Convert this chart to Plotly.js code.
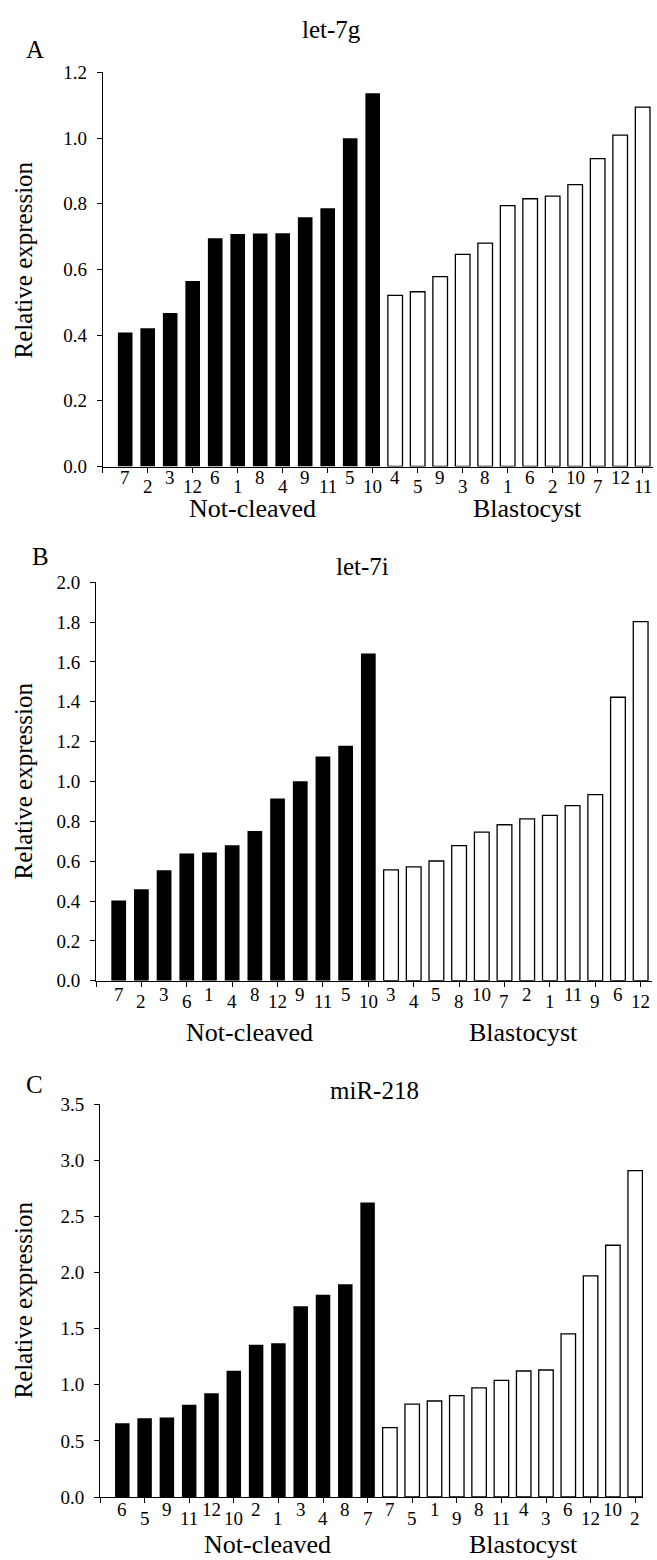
<!DOCTYPE html>
<html>
<head>
<meta charset="utf-8">
<script src="https://cdn.plot.ly/plotly-3.0.1.min.js"></script>
<style>html,body{margin:0;padding:0;background:#fff;}#chart{width:657px;height:1560px;}</style>
</head>
<body>
<div id="chart"></div>
<script>
// ---------- data ----------
var groupNames = ['Not-cleaved', 'Blastocyst'];

var titleA = 'let-7g';
var ncLabelsA = ['7','2','3','12','6','1','8','4','9','11','5','10'];
var ncValuesA = [0.408,0.421,0.467,0.565,0.695,0.708,0.709,0.710,0.759,0.786,0.999,1.136];
var blLabelsA = ['4','5','9','3','8','1','6','2','10','7','12','11'];
var blValuesA = [0.521,0.532,0.578,0.646,0.680,0.794,0.815,0.823,0.858,0.937,1.009,1.094];

var titleB = 'let-7i';
var ncLabelsB = ['7','2','3','6','1','4','8','12','9','11','5','10'];
var ncValuesB = [0.403,0.459,0.554,0.639,0.643,0.680,0.751,0.915,1.001,1.126,1.180,1.642];
var blLabelsB = ['3','4','5','8','10','7','2','1','11','9','6','12'];
var blValuesB = [0.556,0.571,0.601,0.678,0.746,0.783,0.812,0.830,0.879,0.934,1.423,1.803];

var titleC = 'miR-218';
var ncLabelsC = ['6','5','9','11','12','10','2','1','3','4','8','7'];
var ncValuesC = [0.656,0.701,0.707,0.822,0.923,1.125,1.357,1.369,1.698,1.802,1.894,2.622];
var blLabelsC = ['7','5','1','9','8','11','4','3','6','12','10','2'];
var blValuesC = [0.618,0.828,0.855,0.903,0.971,1.039,1.122,1.131,1.452,1.969,2.242,2.907];

var yTitle = 'Relative expression';
var panelLetters = ['A','B','C'];

// ---------- layout helpers ----------
var W = 657, H = 1560;
var FONT = 'Liberation Serif, Times New Roman, serif';
function px(x){ return x / W; }
function py(y){ return 1 - y / H; }

var panels = [
  {title: titleA, nc: ncValuesA, bl: blValuesA, ncL: ncLabelsA, blL: blLabelsA,
   xl: 102.7, xr: 652.8, xmax: 24.45, yt: 72.3, yb: 466.5, ymax: 1.2, dtick: 0.2,
   hi: 11, lo: 20, grp: 42, grpX: [6.68, 18.86], titleXY: [331, 29], letterXY: [35, 49]},
  {title: titleB, nc: ncValuesB, bl: blValuesB, ncL: ncLabelsB, blL: blLabelsB,
   xl: 96, xr: 652, xmax: 24.5, yt: 582.3, yb: 980.7, ymax: 2.0, dtick: 0.2,
   hi: 14, lo: 21, grp: 52, grpX: [6.78, 18.85], titleXY: [362, 566], letterXY: [40, 556]},
  {title: titleC, nc: ncValuesC, bl: blValuesC, ncL: ncLabelsC, blL: blLabelsC,
   xl: 100, xr: 643, xmax: 24.35, yt: 1104, yb: 1497, ymax: 3.5, dtick: 0.5,
   hi: 12, lo: 21, grp: 47, grpX: [7.49, 19.0], titleXY: [374, 1090], letterXY: [34, 1084]}
];

var traces = [];
var layout = {
  width: W, height: H,
  margin: {l: 0, r: 0, t: 0, b: 0},
  paper_bgcolor: '#fff', plot_bgcolor: '#fff',
  showlegend: false,
  font: {family: FONT, color: '#000', size: 19},
  annotations: [],
  bargap: 0.35
};

panels.forEach(function(p, k){
  var n = k + 1;
  var xa = n === 1 ? 'x' : 'x' + n;
  var ya = n === 1 ? 'y' : 'y' + n;
  var ncX = p.nc.map(function(_, i){ return i + 1; });
  var blX = p.bl.map(function(_, i){ return p.nc.length + i + 1; });
  traces.push({type: 'bar', x: ncX, y: p.nc, xaxis: xa, yaxis: ya, width: 0.65,
    marker: {color: '#000', line: {color: '#000', width: 0}}, hoverinfo: 'skip'});
  traces.push({type: 'bar', x: blX, y: p.bl, xaxis: xa, yaxis: ya, width: 0.65,
    marker: {color: '#fff', line: {color: '#000', width: 1.3}}, hoverinfo: 'skip'});

  var tv = [];
  for (var t = 0; t <= p.nc.length + p.bl.length; t += 2) tv.push(t);

  layout[(n === 1 ? 'xaxis' : 'xaxis' + n)] = {
    domain: [px(p.xl), px(p.xr)], range: [0, p.xmax], anchor: ya,
    showline: true, linecolor: '#000', linewidth: 1,
    ticks: 'outside', ticklen: 5, tickwidth: 1, tickcolor: '#000',
    tickmode: 'array', tickvals: tv, showticklabels: false,
    showgrid: false, zeroline: false, fixedrange: true
  };
  var ticks = [];
  for (var v = 0; v <= p.ymax + 1e-9; v += p.dtick) ticks.push(+v.toFixed(2));
  layout[(n === 1 ? 'yaxis' : 'yaxis' + n)] = {
    domain: [py(p.yb), py(p.yt)], range: [0, p.ymax], anchor: xa,
    showline: true, linecolor: '#000', linewidth: 1,
    ticks: 'outside', ticklen: 5, tickwidth: 1, tickcolor: '#000',
    tickmode: 'array', tickvals: ticks, tickformat: '.1f',
    ticklabelstandoff: 6,
    tickfont: {family: FONT, size: 19, color: '#000'},
    showgrid: false, zeroline: false, fixedrange: true
  };

  var allLabels = p.ncL.concat(p.blL);
  allLabels.forEach(function(lab, i){
    var pos = i + 1;
    var high = (pos % 2 === 1);
    layout.annotations.push({
      text: lab, xref: xa, x: pos, yref: 'paper', y: py(p.yb),
      yanchor: 'middle', xanchor: 'center', showarrow: false,
      yshift: -(high ? p.hi : p.lo),
      font: {family: FONT, size: 19, color: '#000'}
    });
  });
  groupNames.forEach(function(g, gi){
    layout.annotations.push({
      text: g, xref: xa, x: p.grpX[gi], yref: 'paper', y: py(p.yb),
      yanchor: 'middle', xanchor: 'center', showarrow: false, yshift: -p.grp,
      font: {family: FONT, size: 26, color: '#000'}
    });
  });
  layout.annotations.push({
    text: yTitle, xref: 'paper', x: px(23), yref: 'paper', y: py((p.yt + p.yb) / 2 - (k === 0 ? 9 : 0)),
    textangle: -90, xanchor: 'center', yanchor: 'middle', showarrow: false,
    font: {family: FONT, size: 25, color: '#000'}
  });
  layout.annotations.push({
    text: p.title, xref: 'paper', x: px(p.titleXY[0]), yref: 'paper', y: py(p.titleXY[1]),
    xanchor: 'center', yanchor: 'middle', showarrow: false,
    font: {family: FONT, size: 25, color: '#000'}
  });
  layout.annotations.push({
    text: panelLetters[k], xref: 'paper', x: px(p.letterXY[0]), yref: 'paper', y: py(p.letterXY[1]),
    xanchor: 'center', yanchor: 'middle', showarrow: false,
    font: {family: FONT, size: 25, color: '#000'}
  });
});

Plotly.newPlot('chart', traces, layout, {staticPlot: true, displayModeBar: false});
</script>
</body>
</html>
